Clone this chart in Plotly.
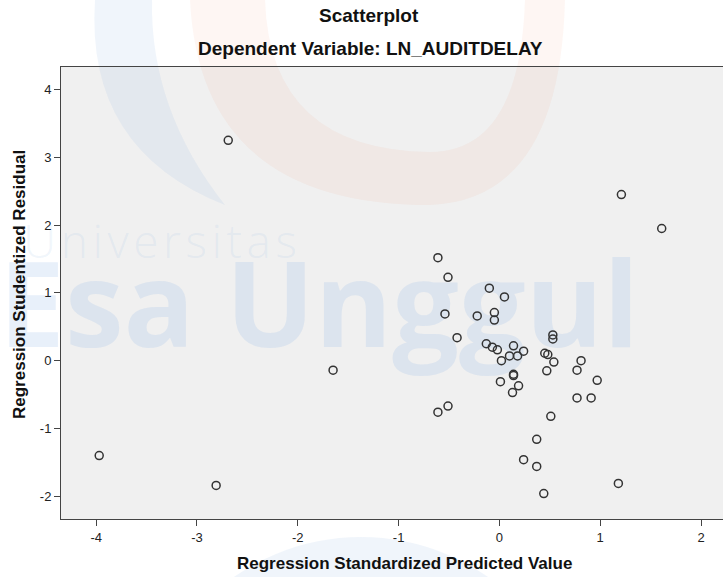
import plotly.graph_objects as go

# ---------------- data ----------------
TITLE = "Scatterplot"
SUBTITLE = "Dependent Variable: LN_AUDITDELAY"
X_TITLE = "Regression Standardized Predicted Value"
Y_TITLE = "Regression Studentized Residual"
WM_BIG = "Esa Unggul"
WM_SMALL = "Universitas"

x_ticks = [-4, -3, -2, -1, 0, 1, 2]
x_tick_labels = ["-4", "-3", "-2", "-1", "0", "1", "2"]
y_ticks = [-2, -1, 0, 1, 2, 3, 4]
y_tick_labels = ["-2", "-1", "0", "1", "2", "3", "4"]

predicted = [-2.69, 1.21, 1.61, -0.61, -0.51, -0.10, 0.05, -0.54, -0.22, -0.05,
             -0.05, -0.42, 0.53, 0.53, -0.13, -0.07, -0.02, 0.14, 0.24, 0.10,
             0.18, 0.02, 0.45, 0.48, 0.54, 0.81, 0.77, 0.47, 0.14, 0.14,
             0.01, 0.19, 0.13, 0.97, 0.77, 0.91, -0.61, -0.51, 0.51, 0.37,
             0.24, 0.37, 1.18, 0.44, -1.65, -3.97, -2.81]
residual = [3.25, 2.45, 1.95, 1.52, 1.23, 1.07, 0.94, 0.69, 0.66, 0.71,
            0.60, 0.34, 0.38, 0.32, 0.25, 0.20, 0.16, 0.22, 0.14, 0.07,
            0.07, 0.00, 0.11, 0.09, -0.02, 0.00, -0.14, -0.15, -0.20, -0.22,
            -0.31, -0.37, -0.47, -0.29, -0.55, -0.55, -0.76, -0.67, -0.82, -1.16,
            -1.46, -1.56, -1.81, -1.96, -0.14, -1.40, -1.84]

# ---------------- layout helpers ----------------
W, H = 723, 577
ML, MR, MT, MB = 61, 0, 67, 58
PW = W - ML - MR
PH = H - MT - MB


def fx(p):
    return (p - ML) / PW


def fy(p):
    return (H - MB - p) / PH


def path(cmds):
    out = []
    for c in cmds:
        if c[0] in ("M", "L"):
            out.append(f"{c[0]} {fx(c[1]):.4f},{fy(c[2]):.4f}")
        elif c[0] == "Q":
            out.append(f"Q {fx(c[1]):.4f},{fy(c[2]):.4f} {fx(c[3]):.4f},{fy(c[4]):.4f}")
        elif c[0] == "Z":
            out.append("Z")
    return " ".join(out)


BLUE = "rgba(150,185,230,0.22)"
BLUE_SOFT = "rgba(150,185,230,0.14)"
BLUE_LIGHT = "rgba(150,185,230,0.14)"
ORANGE = "rgba(240,140,90,0.075)"
FONT = "Liberation Sans, Arial, sans-serif"

shapes = [
    # plot area background
    dict(type="rect", xref="paper", yref="paper", x0=0, x1=1, y0=0, y1=1,
         fillcolor="#F0F0F0", line=dict(width=0), layer="below"),
    # watermark: orange ring
    dict(type="path", xref="paper", yref="paper", layer="below",
         path=path([("M", 190, 0), ("Q", 200, 205, 430, 205), ("Q", 560, 200, 565, 0),
                    ("L", 525, 0), ("Q", 520, 152, 430, 152), ("Q", 270, 150, 265, 0), ("Z",)]),
         fillcolor=ORANGE, line=dict(width=0)),
    # watermark: blue crescent
    dict(type="path", xref="paper", yref="paper", layer="below",
         path=path([("M", 95, 0), ("Q", 85, 150, 225, 205), ("Q", 150, 110, 152, 0), ("Z",)]),
         fillcolor=BLUE_SOFT, line=dict(width=0)),
    # watermark: blue disc at bottom
    dict(type="circle", xref="paper", yref="paper", layer="below",
         x0=fx(139), x1=fx(583), y0=fy(981), y1=fy(537),
         fillcolor=BLUE_LIGHT, line=dict(width=0)),
    # watermark texts
    dict(type="rect", xref="paper", yref="paper", layer="below",
         x0=fx(-100), x1=fx(738), y0=fy(359), y1=fy(259),
         fillcolor="rgba(0,0,0,0)", line=dict(width=0),
         label=dict(text=WM_BIG, textposition="middle center", padding=0,
                    font=dict(family="Open Sans", size=118, color=BLUE, weight="bold"))),
    dict(type="rect", xref="paper", yref="paper", layer="below",
         x0=fx(-45), x1=fx(365), y0=fy(263), y1=fy(223),
         fillcolor="rgba(0,0,0,0)", line=dict(width=0),
         label=dict(text="\u200a".join(WM_SMALL), textposition="middle center", padding=0,
                    font=dict(family="Open Sans", size=46, color=BLUE_LIGHT, weight=300))),
]

fig = go.Figure()
fig.add_trace(go.Scatter(
    x=predicted, y=residual, mode="markers",
    marker=dict(symbol="circle-open", size=8, color="#333333", line=dict(width=1.5, color="#333333")),
    hoverinfo="x+y", showlegend=False,
))

annotations = [
    dict(text=TITLE, xref="paper", yref="paper", x=fx(369), y=fy(15), xanchor="center", yanchor="middle",
         showarrow=False, font=dict(family=FONT, size=19, color="#111111", weight="bold")),
    dict(text=SUBTITLE, xref="paper", yref="paper", x=fx(370), y=fy(48), xanchor="center", yanchor="middle",
         showarrow=False, font=dict(family=FONT, size=19, color="#111111", weight="bold")),
    dict(text=X_TITLE, xref="paper", yref="paper", x=fx(404), y=fy(563), xanchor="center", yanchor="middle",
         showarrow=False, font=dict(family=FONT, size=17, color="#111111", weight="bold")),
    dict(text=Y_TITLE, xref="paper", yref="paper", x=fx(19), y=fy(285), xanchor="center", yanchor="middle",
         textangle=-90, showarrow=False, font=dict(family=FONT, size=17, color="#111111", weight="bold")),
]

axis_common = dict(
    ticks="outside", ticklen=6, tickwidth=1, tickcolor="#444444",
    showline=True, linecolor="#444444", linewidth=1,
    showgrid=False, zeroline=False,
    tickfont=dict(family=FONT, size=13, color="#222222"),
)

fig.update_layout(
    width=W, height=H,
    margin=dict(l=ML, r=MR, t=MT, b=MB, pad=0),
    paper_bgcolor="white",
    plot_bgcolor="rgba(0,0,0,0)",
    xaxis=dict(range=[-4.349, 2.218], tickvals=x_ticks, ticktext=x_tick_labels, mirror=True, **axis_common),
    yaxis=dict(range=[-2.335, 4.332], tickvals=y_ticks, ticktext=y_tick_labels, mirror=False, **axis_common),
    shapes=shapes,
    annotations=annotations,
    showlegend=False,
)

fig.write_html(
    "out.html",
    config={"displayModeBar": False},
    post_script="document.body.style.margin='0';document.body.style.overflow='hidden';",
)
